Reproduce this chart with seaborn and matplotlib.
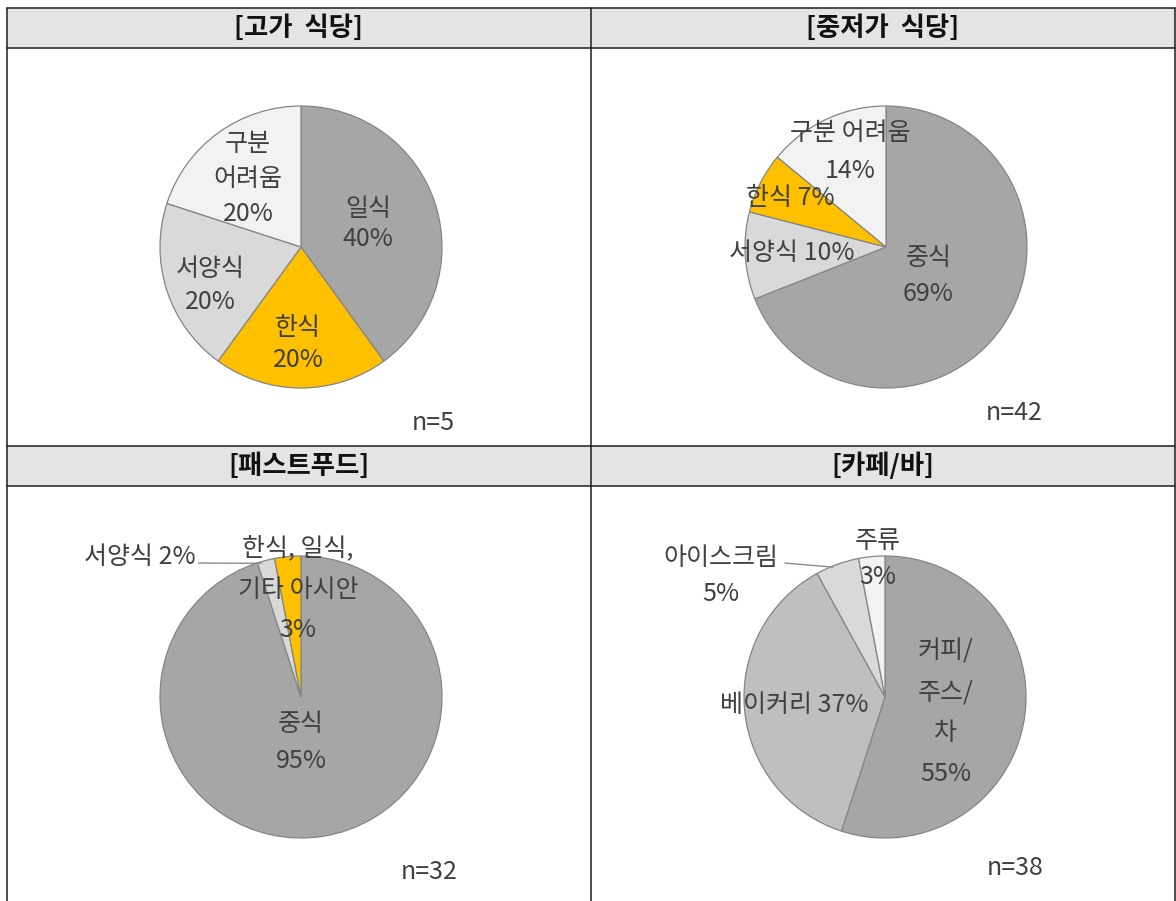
import numpy as np
import matplotlib
matplotlib.use("Agg")
import matplotlib.pyplot as plt
import seaborn as sns

# ---- data -------------------------------------------------------------
panel_titles = ["[고가  식당]", "[중저가  식당]", "[패스트푸드]", "[카페/바]"]

high_labels = ["일식", "한식", "서양식", "구분 어려움"]
high_values = [40, 20, 20, 20]

mid_labels = ["중식", "서양식", "한식", "구분 어려움"]
mid_values = [69, 10, 7, 14]

fast_labels = ["중식", "서양식", "한식, 일식, 기타 아시안"]
fast_values = [95, 2, 3]

cafe_labels = ["커피/주스/차", "베이커리", "아이스크림", "주류"]
cafe_values = [55, 37, 5, 3]

sample_sizes = [5, 42, 32, 38]

# ---- styling ----------------------------------------------------------
sns.set_theme(style="white")
plt.rcParams["font.family"] = ["Noto Sans CJK KR", "DejaVu Sans"]

colors = {
    "일식": "#A6A6A6", "중식": "#A6A6A6", "커피/주스/차": "#A6A6A6",
    "한식": "#FFC000", "한식, 일식, 기타 아시안": "#FFC000",
    "서양식": "#D9D9D9", "아이스크림": "#D9D9D9",
    "베이커리": "#BFBFBF",
    "구분 어려움": "#F2F2F2", "주류": "#F2F2F2",
}
TEXT = "#404040"
EDGE = "#858585"
LABEL_FS = 18

W, H = 1176, 901
fig = plt.figure(figsize=(W / 100, H / 100), dpi=100)

# ---- table frame (pixel coordinates) -----------------------------------
frame = fig.add_axes([0, 0, 1, 1])
frame.set_xlim(0, W)
frame.set_ylim(H, 0)
frame.axis("off")

left, right, mid_x = 7, 1175, 590.5
header_rows = [(8, 48), (446, 486)]
for top, bot in header_rows:
    frame.add_patch(plt.Rectangle((left, top), right - left, bot - top,
                                  facecolor="#E4E4E4", edgecolor="none", zorder=0))
    frame.plot([left, right], [top, top], color="#1E1E1E", lw=1.1)
    frame.plot([left, right], [bot, bot], color="#1E1E1E", lw=1.1)
for x in (left, mid_x, right):
    frame.plot([x, x], [8, H + 5], color="#1E1E1E", lw=1.1)

title_pos = [((left + mid_x) / 2, 28), ((mid_x + right) / 2, 28),
             ((left + mid_x) / 2, 466), ((mid_x + right) / 2, 466)]
for (tx, ty), title in zip(title_pos, panel_titles):
    frame.text(tx, ty, title, ha="center", va="center", fontsize=19,
               fontweight="bold", color="#111111")

# ---- pies ---------------------------------------------------------------
R = 141.0
panels = [
    dict(labels=high_labels, values=high_values, body=(left, mid_x, 48, 446), center=(301, 247),
         texts=["{l}\n{v}%", "{l}\n{v}%", "{l}\n{v}%", "구분\n어려움\n{v}%"],
         pos=[(0.475, 0.16), (-0.02, -0.688), (-0.645, -0.27), (-0.376, 0.479)],
         ls=[1.2, 1.3, 1.35, 1.45],
         npos=(0.94, -1.25), leaders={}),
    dict(labels=mid_labels, values=mid_values, body=(mid_x, right, 48, 446), center=(886, 247),
         texts=["{l}\n{v}%", "{l} {v}%", "{l} {v}%", "{l}\n{v}%"],
         pos=[(0.30, -0.209), (-0.667, -0.043), (-0.68, 0.35), (-0.255, 0.674)],
         ls=[1.5, 1.3, 1.3, 1.6],
         npos=(0.91, -1.18), leaders={}),
    dict(labels=fast_labels, values=fast_values, body=(left, mid_x, 486, H), center=(301, 697),
         texts=["{l}\n{v}%", "{l} {v}%", "한식, 일식,\n기타 아시안\n{v}%"],
         pos=[(0.0, -0.323), (-1.142, 0.995), (-0.02, 0.762)],
         ls=[1.55, 1.3, 1.7],
         npos=(0.91, -1.24), leaders={1: (-0.727, 0.95)}),
    dict(labels=cafe_labels, values=cafe_values, body=(mid_x, right, 486, H), center=(885, 697),
         texts=["커피/\n주스/\n차\n{v}%", "{l} {v}%", "{l}\n{v}%", "{l}\n{v}%"],
         pos=[(0.43, -0.113), (-0.645, -0.057), (-1.163, 0.858), (-0.05, 0.982)],
         ls=[1.75, 1.3, 1.5, 1.5],
         npos=(0.92, -1.21), leaders={2: (-0.709, 0.95)}),
]

for i, p in enumerate(panels):
    x0, x1, y_top, y_bot = p["body"]
    cx, cy = p["center"]
    ax = fig.add_axes([x0 / W, 1 - y_bot / H, (x1 - x0) / W, (y_bot - y_top) / H])
    wedges, _ = ax.pie(p["values"], colors=[colors[l] for l in p["labels"]],
                       startangle=90, counterclock=False, radius=1.0,
                       wedgeprops=dict(edgecolor=EDGE, linewidth=0.9))
    ax.set_aspect("auto")
    ax.set_xlim((x0 - cx) / R, (x1 - cx) / R)
    ax.set_ylim((cy - y_bot) / R, (cy - y_top) / R)
    ax.axis("off")

    for j, (lab, val) in enumerate(zip(p["labels"], p["values"])):
        txt = p["texts"][j].format(l=lab, v=val)
        tx, ty = p["pos"][j]
        ax.text(tx, ty, txt, ha="center", va="center", fontsize=LABEL_FS,
                color=TEXT, linespacing=p["ls"][j], zorder=5)
        if j in p["leaders"]:
            w = wedges[j]
            mid = np.deg2rad((w.theta1 + w.theta2) / 2)
            ex, ey = np.cos(mid), np.sin(mid)
            sx, sy = p["leaders"][j]
            ax.plot([sx, ex - 0.03], [sy, ey - 0.02], color="#8C8C8C", lw=1.0, zorder=4)

    ax.text(p["npos"][0], p["npos"][1], f"n={sample_sizes[i]}", ha="center", va="center",
            fontsize=LABEL_FS, color=TEXT)

fig.savefig("out.png", dpi=100)
